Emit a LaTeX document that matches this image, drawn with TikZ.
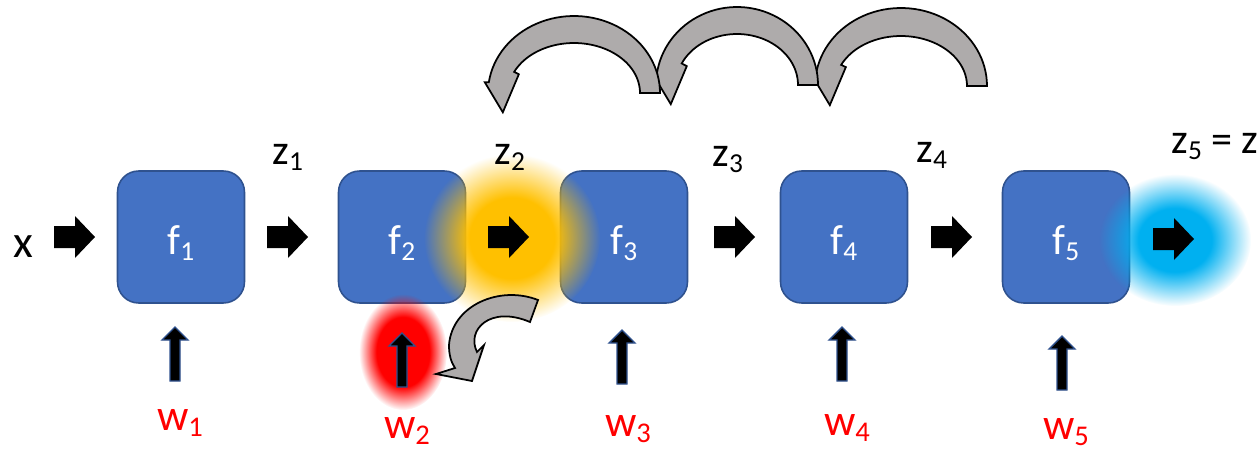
\documentclass[tikz,border=0pt]{standalone}
\usepackage{fontspec}
\usepackage{graphicx}
\setmainfont{Carlito}
\usetikzlibrary{fadings,calc}
\definecolor{boxblue}{HTML}{4472C4}
\definecolor{boxedge}{HTML}{2F528F}
\definecolor{arcgray}{HTML}{AEABAB}
\definecolor{glowyellow}{HTML}{FFC000}
\definecolor{glowblue}{HTML}{00B0F0}
\definecolor{glowred}{HTML}{FF0000}
\pgfdeclareradialshading{glowshade}{\pgfpointorigin}{color(0bp)=(white); color(12bp)=(white); color(25bp)=(black); color(50bp)=(black)}
\pgfdeclarefading{glowfade}{\pgfuseshading{glowshade}}
\pgfdeclareradialshading{glowshadewide}{\pgfpointorigin}{color(0bp)=(white); color(15bp)=(white); color(25bp)=(black); color(50bp)=(black)}
\pgfdeclarefading{glowfadewide}{\pgfuseshading{glowshadewide}}
\newcommand{\subs}[1]{\raisebox{-0.15em}{\scalebox{0.65}{#1}}}
\tikzset{
  fblock/.style={draw=boxedge, fill=boxblue, line width=0.9pt, rounded corners=12pt, minimum width=2.54cm, minimum height=2.64cm, inner sep=0pt},
  flab/.style={text=white, font=\fontsize{24pt}{24pt}\selectfont, inner sep=0pt, anchor=base},
  zlab/.style={text=black, font=\fontsize{24pt}{24pt}\selectfont, inner sep=0pt, anchor=base west},
  wlab/.style={text=red, font=\fontsize{25pt}{25pt}\selectfont, inner sep=0pt, anchor=base},
  grayarr/.style={draw=black, fill=arcgray, line width=1pt, line join=miter},
  glow/.style={path fading=glowfade},
  rarrow/.pic={\fill[black] (0,-11) -- (21,-11) -- (21,-21) -- (41,0) -- (21,21) -- (21,11) -- (0,11) -- cycle;},
  uarrow/.pic={\draw[draw=boxedge, fill=black, line width=0.8pt] (0,0) -- (13,13) -- (5,13) -- (5,54) -- (-5,54) -- (-5,13) -- (-13,13) -- cycle;}
}
\begin{document}
\begin{tikzpicture}[x=0.02cm, y=-0.02cm]
\useasboundingbox (0,0) rectangle (1259,453);
% boxes
\node[fblock] (f1) at (181,237) {};
\node[fblock] (f2) at (402,237) {};
\node[fblock] (f3) at (624,237) {};
\node[fblock] (f4) at (844,237) {};
\node[fblock] (f5) at (1066,237) {};
% glows
\fill[glowyellow, glow] (512,238) ellipse (88 and 84);
\fill[glowblue, glow] (1175,240) ellipse (76 and 66);
% f labels
\node[flab] (l1) at ($(f1.center)+(0,17)$) {f\subs{1}};
\node[flab] (l2) at ($(f2.center)+(0,17)$) {f\subs{2}};
\node[flab] (l3) at ($(f3.center)+(0,17)$) {f\subs{3}};
\node[flab] (l4) at ($(f4.center)+(0,17)$) {f\subs{4}};
\node[flab] (l5) at ($(f5.center)+(0,17)$) {f\subs{5}};
% right arrows
\pic at (54,237) {rarrow};
\pic at (267,237) {rarrow};
\pic at (488,237) {rarrow};
\pic at (714,237) {rarrow};
\pic at (931,237) {rarrow};
\pic at (1153,239) {rarrow};
% red glow and up arrows
\fill[glowred, path fading=glowfadewide] (403,352) ellipse (44 and 58);
\pic at (175,327) {uarrow};
\pic at (402,333) {uarrow};
\pic at (622,330) {uarrow};
\pic at (842,327) {uarrow};
\pic at (1062,336) {uarrow};
% big curved arrows (right to left, drawn back to front)
\foreach \cx/\by/\ao/\bo/\ai/\bi in {901/86/86/78/66/50, 737/85/81/78/61/51, 574/93/86/77/66/50}{
  \draw[grayarr] plot[domain=0:-172, samples=50, variable=\t] ({\cx+\ao*cos(\t)},{\by+\bo*sin(\t)})
    -- ++(-4,0) -- ++(18,30) -- ++(16,-38)
    -- plot[domain=-155:0, samples=50, variable=\t] ({\cx+\ai*cos(\t)},{\by+\bi*sin(\t)}) -- cycle;
}
% small curved arrow
\draw[grayarr] (538,300) .. controls (500,285) and (452,305) .. (449,345)
  .. controls (449,355) and (451,362) .. (455,368) -- (436,374) -- (472,381) -- (484,345) -- (477,352)
  .. controls (466,330) and (490,305) .. (530,322) -- cycle;
% labels
\node[zlab, font=\fontsize{26pt}{26pt}\selectfont] (x) at (13,257) {x};
\node[zlab] (z1) at (272,164) {z\subs{1}};
\node[zlab] (z2) at (494,164) {z\subs{2}};
\node[zlab] (z3) at (712,166) {z\subs{3}};
\node[zlab] (z4) at (916,162) {z\subs{4}};
\node[zlab] (z5) at (1171,153) {z\subs{5} = z};
\node[wlab] (w1) at (180,430) {w\subs{1}};
\node[wlab] (w2) at (407,438) {w\subs{2}};
\node[wlab] (w3) at (628,436) {w\subs{3}};
\node[wlab] (w4) at (847,435) {w\subs{4}};
\node[wlab] (w5) at (1066,439) {w\subs{5}};
\end{tikzpicture}
\end{document}
